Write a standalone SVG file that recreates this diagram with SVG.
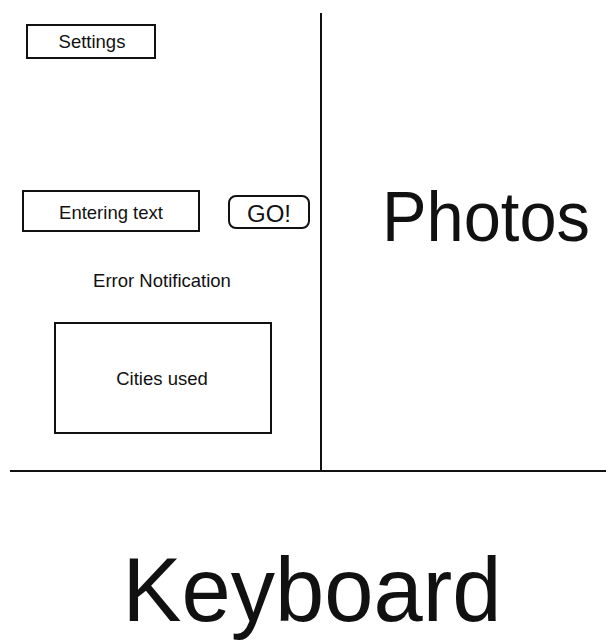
<svg xmlns="http://www.w3.org/2000/svg" width="606" height="640" viewBox="0 0 606 640">
<style>
.box{fill:#fff;stroke:#111;stroke-width:2}
.t{font-family:"Liberation Sans",Arial,sans-serif;fill:#111;text-anchor:middle}
.s{font-size:18.5px}
</style>
<rect width="606" height="640" fill="#fff"/>
<g id="connectors" stroke="#111" stroke-width="2" fill="none">
<line x1="321" y1="13" x2="321" y2="472"/>
<line x1="10" y1="471" x2="606" y2="471"/>
</g>
<g id="settings">
<rect class="box" x="27" y="25" width="128" height="33"/>
<text class="t s" x="92" y="48">Settings</text>
</g>
<g id="entering-text">
<rect class="box" x="23" y="191" width="176" height="40"/>
<text class="t s" x="111" y="219">Entering text</text>
</g>
<g id="go">
<rect class="box" x="229" y="196" width="80" height="32" rx="7"/>
<text class="t" x="269" y="222" font-size="23" textLength="44" lengthAdjust="spacingAndGlyphs">GO!</text>
</g>
<g id="error-notification">
<text class="t s" x="162" y="287">Error Notification</text>
</g>
<g id="cities-used">
<rect class="box" x="55" y="323" width="216" height="110"/>
<text class="t s" x="162" y="385">Cities used</text>
</g>
<g id="photos">
<text class="t" x="486" y="241" font-size="71" textLength="208" lengthAdjust="spacingAndGlyphs">Photos</text>
</g>
<g id="keyboard">
<text class="t" x="312" y="621" font-size="91" textLength="379" lengthAdjust="spacingAndGlyphs">Keyboard</text>
</g>
</svg>
